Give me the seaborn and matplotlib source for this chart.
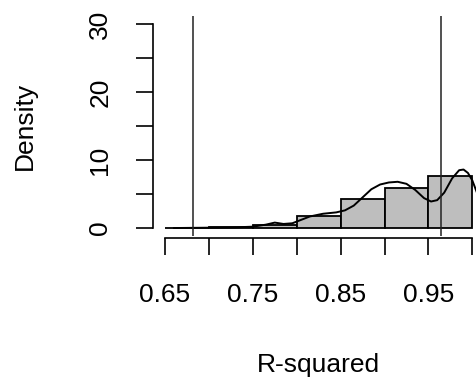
import numpy as np
import pandas as pd
import matplotlib
matplotlib.use("Agg")
import matplotlib.pyplot as plt
import seaborn as sns

# Histogram (density scale)
bin_edges = [0.65, 0.70, 0.75, 0.80, 0.85, 0.90, 0.95, 1.00]
bin_density = [0.0, 0.1, 0.5, 1.8, 4.3, 5.9, 7.7]

# Kernel density curve
kde_x = [0.66, 0.70, 0.73, 0.75, 0.765, 0.775, 0.785, 0.795, 0.805, 0.815,
         0.83, 0.845, 0.855, 0.865, 0.875, 0.885, 0.895, 0.905, 0.915, 0.925,
         0.935, 0.945, 0.953, 0.96, 0.968, 0.977, 0.985, 0.99, 0.995, 1.0,
         1.005, 1.01]
kde_y = [0.0, 0.05, 0.1, 0.2, 0.5, 0.8, 0.6, 0.7, 1.2, 1.7,
         2.1, 2.3, 2.6, 3.3, 4.5, 5.7, 6.4, 6.7, 6.8, 6.5,
         5.6, 4.4, 3.9, 4.1, 5.2, 7.3, 8.5, 8.6, 8.1, 7.0,
         5.3, 3.5]

# Reference lines
vlines = [0.6816, 0.964]

x_ticks = [0.65, 0.70, 0.75, 0.80, 0.85, 0.90, 0.95, 1.00]
x_ticklabels = ["0.65", "", "0.75", "", "0.85", "", "0.95", ""]
y_ticks = [0, 5, 10, 15, 20, 25, 30]
y_ticklabels = ["0", "", "10", "", "20", "", "30"]

sns.set_style("white")
plt.rcParams["font.family"] = ["Liberation Sans", "DejaVu Sans"]
plt.rcParams["text.color"] = "black"
plt.rcParams["axes.labelcolor"] = "black"
plt.rcParams["xtick.color"] = "black"
plt.rcParams["ytick.color"] = "black"

W, H = 477, 387
fig = plt.figure(figsize=(W / 100, H / 100), dpi=100)
left, right = 152.7, 484.6
top, bottom = 15.8, 236.2
ax = fig.add_axes([left / W, (H - bottom) / H, (right - left) / W, (bottom - top) / H])

centers = [(a + b) / 2 for a, b in zip(bin_edges[:-1], bin_edges[1:])]
df = pd.DataFrame({"x": centers, "w": bin_density})
sns.histplot(data=df, x="x", weights="w", bins=bin_edges, stat="count",
             color="#BEBEBE", alpha=1, edgecolor="black", linewidth=1.3, ax=ax)

kdf = pd.DataFrame({"x": kde_x, "y": kde_y})
sns.lineplot(data=kdf, x="x", y="y", color="black", linewidth=1.4, ax=ax)

for v in vlines:
    ax.axvline(v, color="#222222", linewidth=1.1)

ax.set_xlim(0.636, 1.014)
ax.set_ylim(-1.2, 31.2)

for s in ["top", "right"]:
    ax.spines[s].set_visible(False)
ax.spines["left"].set_bounds(0, 30)
ax.spines["bottom"].set_bounds(0.65, 1.0)
ax.spines["bottom"].set_position(("outward", 1.5))
for s in ["left", "bottom"]:
    ax.spines[s].set_linewidth(1.2)
    ax.spines[s].set_color("black")

ax.set_xticks(x_ticks)
ax.set_xticklabels(x_ticklabels)
ax.set_yticks(y_ticks)
ax.set_yticklabels(y_ticklabels, rotation=90, va="center")
ax.tick_params(axis="both", direction="out", length=12.2, width=1.2, color="black",
               labelcolor="black", labelsize=19, left=True, bottom=True)
ax.tick_params(axis="x", pad=20)
ax.tick_params(axis="y", pad=17)

ax.set_xlabel("R-squared", fontsize=19, va="center", color="black")
ax.xaxis.set_label_coords(0.5, (H - 365 - (H - bottom)) / (bottom - top))
ax.set_ylabel("Density", fontsize=19, va="center", color="black")
ax.yaxis.set_label_coords((25 - left) / (right - left), 0.5)

fig.savefig("out.png", dpi=100)
